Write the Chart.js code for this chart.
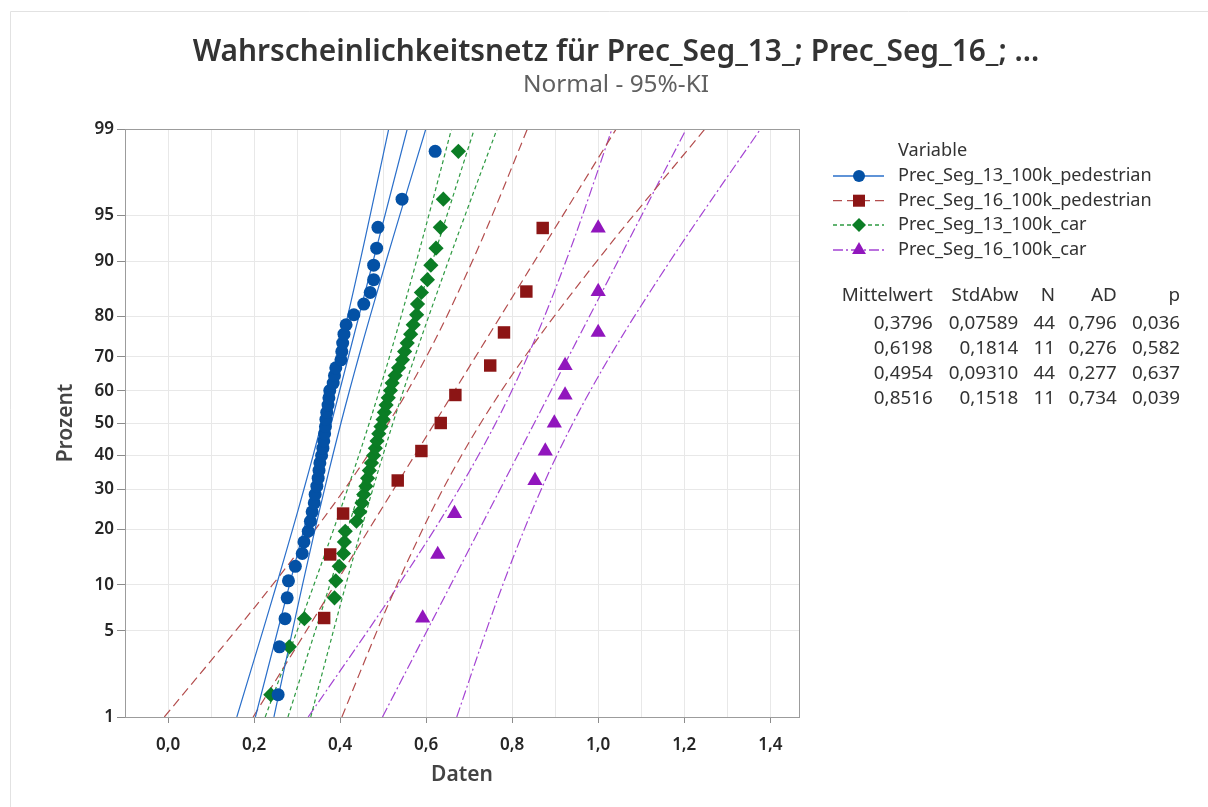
<!DOCTYPE html>
<html>
<head>
<meta charset="utf-8">
<script src="https://cdn.jsdelivr.net/npm/chart.js@4.4.1/dist/chart.umd.min.js"></script>
<style>
  html, body { margin: 0; padding: 0; background: #fff; }
  #wrap { position: relative; width: 1208px; height: 807px; }
</style>
</head>
<body>
<div id="wrap"><canvas id="chart" width="1208" height="807"></canvas></div>
<script>
'use strict';

// ── Data ──
const SERIES_NAMES = [
  'Prec_Seg_13_100k_pedestrian',
  'Prec_Seg_16_100k_pedestrian',
  'Prec_Seg_13_100k_car',
  'Prec_Seg_16_100k_car',
];

// plotting positions (median ranks, %) for n = 44 and n = 11
const PCT_44 = [1.58, 3.83, 6.08, 8.33, 10.59, 12.84, 15.09, 17.34, 19.59, 21.85, 24.10,
  26.35, 28.60, 30.86, 33.11, 35.36, 37.61, 39.86, 42.12, 44.37, 46.62, 48.87, 51.13, 53.38,
  55.63, 57.88, 60.14, 62.39, 64.64, 66.89, 69.14, 71.40, 73.65, 75.90, 78.15, 80.41, 82.66,
  84.91, 87.16, 89.41, 91.67, 93.92, 96.17, 98.42];
const PCT_11 = [6.14, 14.91, 23.68, 32.46, 41.23, 50.00, 58.77, 67.54, 76.32, 85.09, 93.86];

const SEG13_PED = [0.256, 0.259, 0.272, 0.277, 0.280, 0.296, 0.312, 0.316, 0.326, 0.331, 0.335,
  0.340, 0.342, 0.346, 0.349, 0.351, 0.353, 0.357, 0.360, 0.362, 0.364, 0.366, 0.367, 0.369,
  0.372, 0.374, 0.376, 0.384, 0.387, 0.390, 0.402, 0.404, 0.406, 0.409, 0.414, 0.432, 0.455,
  0.470, 0.478, 0.478, 0.485, 0.488, 0.544, 0.621];
const SEG16_PED = [0.363, 0.377, 0.407, 0.534, 0.589, 0.634, 0.668, 0.749, 0.781, 0.833, 0.871];
const SEG13_CAR = [0.239, 0.282, 0.317, 0.387, 0.390, 0.398, 0.408, 0.410, 0.412, 0.438, 0.446,
  0.451, 0.455, 0.460, 0.464, 0.468, 0.473, 0.478, 0.482, 0.486, 0.490, 0.495, 0.500, 0.503,
  0.507, 0.512, 0.517, 0.521, 0.528, 0.536, 0.545, 0.550, 0.556, 0.564, 0.570, 0.578, 0.580,
  0.589, 0.603, 0.611, 0.623, 0.633, 0.640, 0.675];
const SEG16_CAR = [0.592, 0.627, 0.666, 0.853, 0.877, 0.898, 0.923, 0.923, 1.000, 1.000, 1.000];

// fitted lines (x at 1 % and 99 %)
const FIT_PCT = [1, 99];
const FIT_SEG13_PED = [0.2031, 0.5561];
const FIT_SEG16_PED = [0.1978, 1.0418];
const FIT_SEG13_CAR = [0.2788, 0.7120];
const FIT_SEG16_CAR = [0.4985, 1.2047];

// 95 % confidence bands
const CI_PCT = [1, 5, 10, 20, 30, 40, 50, 60, 70, 80, 90, 95, 99];
const CI_SEG13_PED_LO = [0.1599, 0.2204, 0.2521, 0.2896, 0.3159, 0.3376, 0.3572, 0.3760, 0.3955, 0.4174, 0.4466, 0.4700, 0.5130];
const CI_SEG13_PED_HI = [0.2462, 0.2892, 0.3126, 0.3418, 0.3637, 0.3832, 0.4020, 0.4216, 0.4433, 0.4696, 0.5071, 0.5388, 0.5993];
const CI_SEG16_PED_LO = [-0.0086, 0.1570, 0.2427, 0.3424, 0.4103, 0.4649, 0.5126, 0.5568, 0.6006, 0.6477, 0.7076, 0.7538, 0.8354];
const CI_SEG16_PED_HI = [0.4042, 0.4859, 0.5320, 0.5919, 0.6390, 0.6828, 0.7270, 0.7747, 0.8293, 0.8972, 0.9970, 1.0826, 1.2482];
const CI_SEG13_CAR_LO = [0.2259, 0.3001, 0.3390, 0.3850, 0.4172, 0.4439, 0.4679, 0.4910, 0.5149, 0.5417, 0.5776, 0.6063, 0.6590];
const CI_SEG13_CAR_HI = [0.3318, 0.3845, 0.4132, 0.4491, 0.4759, 0.4998, 0.5229, 0.5469, 0.5736, 0.6058, 0.6518, 0.6907, 0.7649];
const CI_SEG16_CAR_LO = [0.3258, 0.4643, 0.5360, 0.6195, 0.6763, 0.7220, 0.7619, 0.7989, 0.8355, 0.8750, 0.9251, 0.9637, 1.0320];
const CI_SEG16_CAR_HI = [0.6712, 0.7395, 0.7781, 0.8282, 0.8677, 0.9043, 0.9413, 0.9812, 1.0269, 1.0837, 1.1672, 1.2389, 1.3774];

// axis ticks
const Y_TICKS = [1, 5, 10, 20, 30, 40, 50, 60, 70, 80, 90, 95, 99];
const X_TICKS = [-0.1, 0, 0.1, 0.2, 0.3, 0.4, 0.5, 0.6, 0.7, 0.8, 0.9, 1.0, 1.1, 1.2, 1.3, 1.4];

// stats table
const STAT_HEAD = ['Mittelwert', 'StdAbw', 'N', 'AD', 'p'];
const STAT_MEAN = ['0,3796', '0,6198', '0,4954', '0,8516'];
const STAT_SD   = ['0,07589', '0,1814', '0,09310', '0,1518'];
const STAT_N    = ['44', '11', '44', '11'];
const STAT_AD   = ['0,796', '0,276', '0,277', '0,734'];
const STAT_P    = ['0,036', '0,582', '0,637', '0,039'];

const TITLE = 'Wahrscheinlichkeitsnetz für Prec_Seg_13_; Prec_Seg_16_; ...';
const SUBTITLE = 'Normal - 95%-KI';

// ── Styles ──
const FAMILY = '"Noto Sans", "Open Sans", sans-serif';
const STYLE = [
  { marker: '#0451a5', line: '#2a6fca', dash: [],            pointStyle: 'circle',   r: 6.5, lr: 6   },
  { marker: '#8c1515', line: '#b34d4d', dash: [9, 5],        pointStyle: 'rect',     r: 8.8, lr: 8.5 },
  { marker: '#0b7d25', line: '#2e9a42', dash: [4, 3],        pointStyle: 'rectRot',  r: 7.6, lr: 7   },
  { marker: '#9116bd', line: '#a443d3', dash: [10, 3, 2, 3], pointStyle: 'triangle', r: 8.8, lr: 8   },
];

// ── normal quantile (probability axis transform) ──
function probit(p) {
  const a = [-39.69683028665376, 220.9460984245205, -275.9285104469687, 138.3577518672690, -30.66479806614716, 2.506628277459239];
  const b = [-54.47609879822406, 161.5858368580409, -155.6989798598866, 66.80131188771972, -13.28068155288572];
  const c = [-0.007784894002430293, -0.3223964580411365, -2.400758277161838, -2.549732539343734, 4.374664141464968, 2.938163982698783];
  const d = [0.007784695709041462, 0.3224671290700398, 2.445134137142996, 3.754408661907416];
  const pl = 0.02425;
  let q, r;
  if (p < pl) {
    q = Math.sqrt(-2 * Math.log(p));
    return (((((c[0]*q+c[1])*q+c[2])*q+c[3])*q+c[4])*q+c[5]) / ((((d[0]*q+d[1])*q+d[2])*q+d[3])*q+1);
  }
  if (p > 1 - pl) {
    q = Math.sqrt(-2 * Math.log(1 - p));
    return -(((((c[0]*q+c[1])*q+c[2])*q+c[3])*q+c[4])*q+c[5]) / ((((d[0]*q+d[1])*q+d[2])*q+d[3])*q+1);
  }
  q = p - 0.5; r = q * q;
  return (((((a[0]*r+a[1])*r+a[2])*r+a[3])*r+a[4])*r+a[5])*q / (((((b[0]*r+b[1])*r+b[2])*r+b[3])*r+b[4])*r+1);
}
const pts = (xs, pcts) => xs.map((x, i) => ({ x, y: probit(pcts[i] / 100) }));

// ── Datasets ──
const SERIES = [
  { pts: SEG13_PED, pct: PCT_44, fit: FIT_SEG13_PED, lo: CI_SEG13_PED_LO, hi: CI_SEG13_PED_HI },
  { pts: SEG16_PED, pct: PCT_11, fit: FIT_SEG16_PED, lo: CI_SEG16_PED_LO, hi: CI_SEG16_PED_HI },
  { pts: SEG13_CAR, pct: PCT_44, fit: FIT_SEG13_CAR, lo: CI_SEG13_CAR_LO, hi: CI_SEG13_CAR_HI },
  { pts: SEG16_CAR, pct: PCT_11, fit: FIT_SEG16_CAR, lo: CI_SEG16_CAR_LO, hi: CI_SEG16_CAR_HI },
];

const datasets = [];
SERIES.forEach((s, i) => {
  const st = STYLE[i];
  const lineDs = (data) => ({
    data, showLine: true, pointRadius: 0, pointHoverRadius: 0,
    borderColor: st.line, borderWidth: 1.2, borderDash: st.dash, tension: 0.35,
    order: 1,
  });
  datasets.push(lineDs(pts(s.fit, FIT_PCT)));
  datasets.push(lineDs(pts(s.lo, CI_PCT)));
  datasets.push(lineDs(pts(s.hi, CI_PCT)));
  datasets.push({
    label: SERIES_NAMES[i],
    data: pts(s.pts, s.pct),
    showLine: false,
    pointStyle: st.pointStyle, pointRadius: st.r, pointHoverRadius: st.r,
    backgroundColor: st.marker, borderColor: st.marker, borderWidth: 0,
    order: 0,
  });
});

// ── Decorations: title, legend, table, frame ──
function fitSize(ctx, text, weight, target) {
  ctx.font = `${weight} 100px ${FAMILY}`;
  return 100 * target / ctx.measureText(text).width;
}

const decor = {
  id: 'decor',
  afterDraw(chart) {
    const ctx = chart.ctx;
    const a = chart.chartArea;
    ctx.save();

    // outer frame (top / left)
    ctx.strokeStyle = '#e2e2e2';
    ctx.lineWidth = 1;
    ctx.beginPath();
    ctx.moveTo(10.5, 807); ctx.lineTo(10.5, 11.5); ctx.lineTo(1208, 11.5);
    ctx.stroke();

    // plot frame
    ctx.strokeStyle = '#9c9c9c';
    ctx.strokeRect(Math.round(a.left) + 0.5, Math.round(a.top) + 0.5,
      Math.round(a.right - a.left), Math.round(a.bottom - a.top));

    // title + subtitle
    ctx.textAlign = 'center';
    ctx.textBaseline = 'middle';
    ctx.fillStyle = '#333';
    ctx.font = `600 ${fitSize(ctx, TITLE, '600', 847)}px ${FAMILY}`;
    ctx.fillText(TITLE, 616, 52);
    ctx.fillStyle = '#606060';
    ctx.font = `normal ${fitSize(ctx, SUBTITLE, 'normal', 186)}px ${FAMILY}`;
    ctx.fillText(SUBTITLE, 616, 85);

    // legend
    const legSize = fitSize(ctx, SERIES_NAMES[0], 'normal', 254);
    ctx.font = `normal ${legSize}px ${FAMILY}`;
    ctx.textAlign = 'left';
    ctx.fillStyle = '#333';
    ctx.fillText('Variable', 898, 151);
    const legY = [176, 200.7, 225, 250];
    SERIES_NAMES.forEach((name, i) => {
      const st = STYLE[i];
      const y = legY[i];
      ctx.strokeStyle = st.line;
      ctx.lineWidth = 1.3;
      ctx.setLineDash(st.dash);
      ctx.beginPath(); ctx.moveTo(833, y); ctx.lineTo(884, y); ctx.stroke();
      ctx.setLineDash([]);
      ctx.fillStyle = st.marker;
      Chart.helpers.drawPoint(ctx, { pointStyle: st.pointStyle, radius: st.lr, rotation: 0, borderWidth: 0 }, 859, y);
      ctx.fillStyle = '#333';
      ctx.fillText(name, 898, y);
    });

    // stats table
    ctx.font = `normal ${fitSize(ctx, STAT_HEAD[0], 'normal', 91)}px ${FAMILY}`;
    ctx.textAlign = 'right';
    ctx.fillStyle = '#333';
    const colX = [932.7, 1018.3, 1055, 1116.7, 1180];
    const rowY = [323.3, 348.3, 373.3, 398.3];
    STAT_HEAD.forEach((h, j) => ctx.fillText(h, colX[j], 296));
    [STAT_MEAN, STAT_SD, STAT_N, STAT_AD, STAT_P].forEach((col, j) => {
      col.forEach((v, k) => ctx.fillText(v, colX[j], rowY[k]));
    });

    ctx.restore();
  },
};

// ── Chart ──
const tickFont = { family: FAMILY, size: 17, weight: '600' };
const titleFont = { family: FAMILY, size: 21, weight: '600' };

new Chart(document.getElementById('chart'), {
  type: 'scatter',
  data: { datasets },
  options: {
    responsive: false,
    animation: false,
    events: [],
    layout: { padding: { left: 48, top: 129, right: 409, bottom: 18 } },
    plugins: { legend: { display: false }, tooltip: { enabled: false } },
    scales: {
      x: {
        type: 'linear',
        min: -0.1,
        max: 1.4668,
        afterBuildTicks: (s) => { s.ticks = X_TICKS.map(v => ({ value: v })); },
        afterFit: (s) => { s.height = 72; },
        ticks: {
          autoSkip: false, maxRotation: 0, padding: 12, color: '#262626', font: tickFont,
          callback: (v) => {
            const t = Math.round(v * 10);
            return (t >= 0 && t % 2 === 0) ? (t / 10).toFixed(1).replace('.', ',') : '';
          },
        },
        grid: {
          color: '#e8e8e8', lineWidth: 1, drawTicks: true, tickLength: 6,
          tickColor: (c) => {
            const t = Math.round(c.tick.value * 10);
            return (t >= 0 && t % 2 === 0) ? '#8c8c8c' : 'rgba(0,0,0,0)';
          },
        },
        border: { display: false },
        title: { display: true, text: 'Daten', color: '#444', font: titleFont, padding: { top: 0, bottom: 1 } },
      },
      y: {
        type: 'linear',
        min: probit(Y_TICKS[0] / 100),
        max: probit(Y_TICKS[Y_TICKS.length - 1] / 100),
        afterBuildTicks: (s) => { s.ticks = Y_TICKS.map(p => ({ value: probit(p / 100) })); },
        afterFit: (s) => { s.width = 77; },
        ticks: {
          autoSkip: false, padding: 3, color: '#262626', font: tickFont,
          callback: (v, i) => String(Y_TICKS[i]),
        },
        grid: { color: '#e8e8e8', lineWidth: 1, drawTicks: true, tickLength: 8, tickColor: '#8c8c8c' },
        border: { display: false },
        title: { display: true, text: 'Prozent', color: '#444', font: titleFont, padding: { top: 5, bottom: 0 } },
      },
    },
  },
  plugins: [decor],
});
</script>
</body>
</html>
